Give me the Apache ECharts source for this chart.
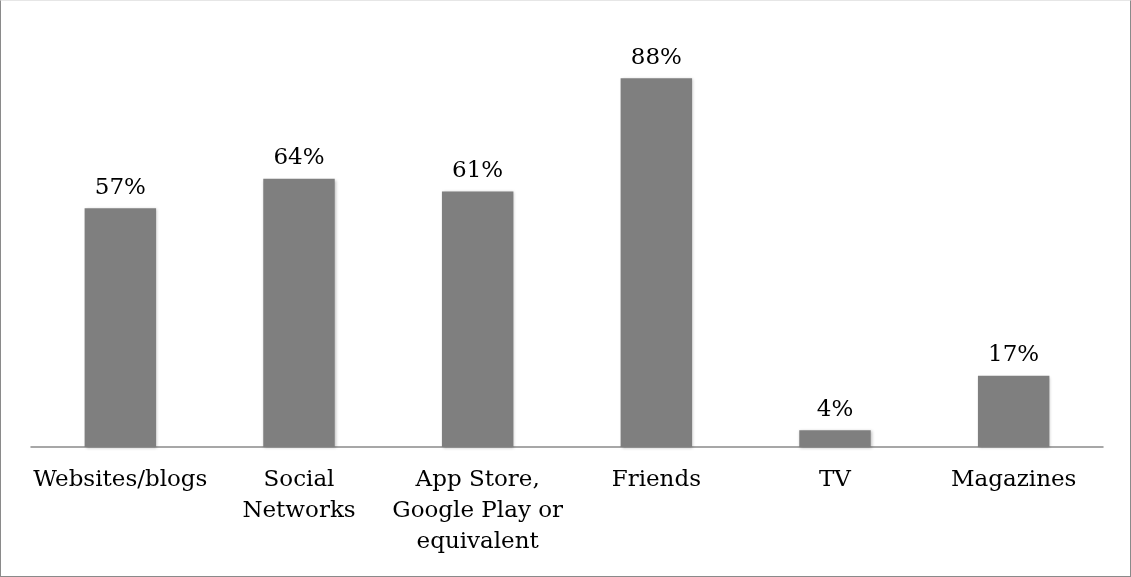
<!DOCTYPE html>
<html>
<head>
<meta charset="utf-8">
<script src="https://cdn.jsdelivr.net/npm/echarts@6/dist/echarts.min.js"></script>
<style>
  html, body { margin: 0; padding: 0; background: #fff; }
  #frame {
    position: absolute; left: 0; top: 0; width: 1129px; height: 575px;
    border: 1px solid #8a8a8a; border-top-color: #e6e6e6; background: #fff;
  }
  #chart { width: 1129px; height: 575px; }
</style>
</head>
<body>
<div id="frame"><div id="chart"></div></div>
<script>
// Sources of discovery and share of respondents citing each
const categories = ['Websites/blogs', 'Social\nNetworks', 'App Store,\nGoogle Play or\nequivalent', 'Friends', 'TV', 'Magazines'];
const shares = [57, 64, 61, 88, 4, 17];

const fontFamily = '"DejaVu Serif", "Liberation Serif", serif';

const chart = echarts.init(document.getElementById('chart'), null, { renderer: 'canvas' });
chart.setOption({
  animation: false,
  grid: { left: 30, right: 27, top: 27, bottom: 129 },
  xAxis: {
    type: 'category',
    data: categories,
    axisLine: { lineStyle: { color: '#8a8a8a', width: 1.5 } },
    axisTick: { show: false },
    axisLabel: {
      color: '#000', fontFamily: fontFamily, fontSize: 23, lineHeight: 31,
      margin: 18, interval: 0
    }
  },
  yAxis: {
    type: 'value', min: 0, max: 100, interval: 20,
    show: false, splitLine: { show: false }
  },
  series: [{
    type: 'bar',
    data: shares,
    barWidth: '40%',
    itemStyle: {
      color: '#7f7f7f',
      shadowColor: 'rgba(0,0,0,0.25)', shadowBlur: 3, shadowOffsetX: 1, shadowOffsetY: 1
    },
    label: {
      show: true, position: 'top', distance: 9,
      formatter: p => p.value + '%',
      color: '#000', fontFamily: fontFamily, fontSize: 23
    }
  }]
});
</script>
</body>
</html>
